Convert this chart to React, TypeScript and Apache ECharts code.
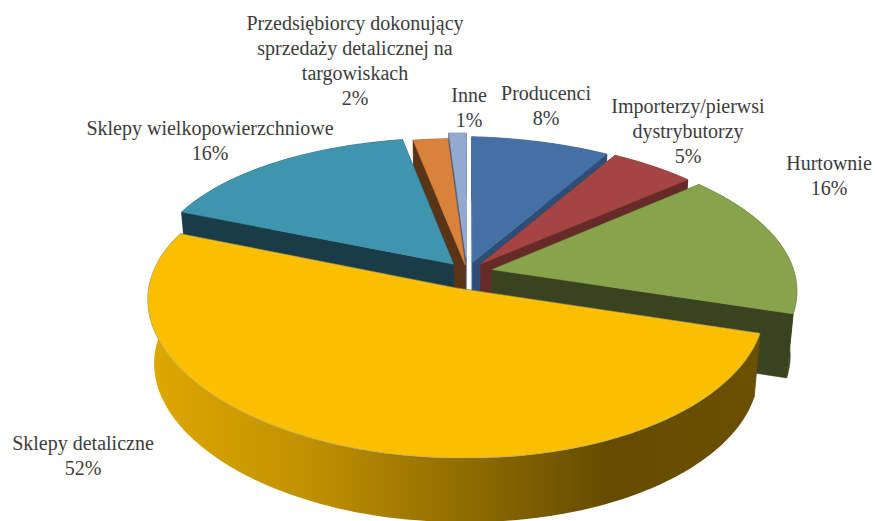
import React, { useEffect, useRef } from "react";
import * as echarts from "echarts";

const names = ["Producenci", "Importerzy/pierwsi\ndystrybutorzy", "Hurtownie", "Sklepy detaliczne", "Sklepy wielkopowierzchniowe", "Przedsiębiorcy dokonujący\nsprzedaży detalicznej na\ntargowiskach", "Inne"];
const values = [8, 5, 16, 52, 16, 2, 1];
const explode = [0.07, 0.075, 0.085, 0.115, 0.07, 0.05, 0.1];
const topColors = ["#4470a6", "#a54543", "#87a44d", "#fcbf00", "#4095ae", "#d9823b", "#93a9d0"];
const wallColors = ["#2e4e78", "#662a29", "#3a431f", "#6a5000", "#1a3c48", "#5a3417", "#4e5f80"];
const paintOrder = [0, 1, 6, 5, 4, 2, 3];
const labelCentres = [[546, 93], [688, 106], [829, 163], [83, 443], [210, 128], [355, 23], [469, 95]];

const CX = 467, CY = 272, R = 304, A = 144, K = 0.1275, KX = 0.09, SKEW_R = 0.025, SKEW_L = 0.008, WALL = 64, SHRINK = 0.98, LINE = 25;

function project(u: number, v: number): number[] {
  const x = CX + (R * u) / (1 + KX * v);
  const skew = x > CX ? SKEW_R : SKEW_L;
  return [x, CY - (A * v) / (1 + K * v) + skew * (x - CX)];
}
function drop(p: number[]): number[] {
  return [CX + (p[0] - CX) * SHRINK, p[1] + WALL];
}

function renderSlice(params: any) {
  const idx = paintOrder[params.dataIndex];
  const total = values.reduce((a, b) => a + b, 0);
  const before = values.slice(0, idx).reduce((a, b) => a + b, 0);
  const t0 = (before / total) * Math.PI * 2;
  const t1 = ((before + values[idx]) / total) * Math.PI * 2;
  const tm = (t0 + t1) / 2;
  const ex = explode[idx] * Math.sin(tm);
  const ey = explode[idx] * Math.cos(tm);
  const tip = project(ex, ey);
  const arc: number[][] = [];
  const steps = Math.max(6, Math.round(values[idx] * 3));
  for (let i = 0; i <= steps; i++) {
    const t = t0 + ((t1 - t0) * i) / steps;
    arc.push(project(ex + Math.sin(t), ey + Math.cos(t)));
  }
  const wall = wallColors[idx];
  const poly = (points: number[][], fill: any, stroke?: string) => ({
    type: "polygon",
    shape: { points },
    style: { fill, stroke: stroke || (typeof fill === "string" ? fill : "none"), lineWidth: 0.5 },
  });
  const radial = (p: number[]) => poly([tip, p, drop(p), drop(tip)], wall);
  const arcFill =
    idx === 3
      ? new echarts.graphic.LinearGradient(0, 0, 1, 0, [
          { offset: 0, color: "#dfa800" },
          { offset: 0.25, color: "#c29200" },
          { offset: 0.55, color: "#8a6800" },
          { offset: 0.75, color: "#654c00" },
          { offset: 1, color: "#6a5000" },
        ])
      : wall;
  return {
    type: "group",
    children: [
      radial(arc[0]),
      radial(arc[arc.length - 1]),
      poly([...arc, ...arc.slice().reverse().map(drop)], arcFill),
      poly([tip, ...arc], topColors[idx], idx === 3 ? "#8a9a8a" : topColors[idx]),
    ],
  };
}

export default function App() {
  const ref = useRef<HTMLDivElement>(null);
  useEffect(() => {
    const chart = echarts.init(ref.current!, undefined, { renderer: "svg" });
    chart.setOption({
      animation: false,
      backgroundColor: "#ffffff",
      series: [
        {
          type: "custom",
          coordinateSystem: "none",
          silent: true,
          data: paintOrder.map((i) => [i, values[i]]),
          renderItem: renderSlice,
        },
      ],
      graphic: names.map((name, i) => {
        const text = `${name}\n${values[i]}%`;
        return {
          type: "text",
          z: 100,
          x: labelCentres[i][0],
          y: labelCentres[i][1] - LINE / 2,
          style: {
            text,
            fill: "#3c3c3c",
            font: '20px "Liberation Serif"',
            align: "center",
            verticalAlign: "top",
            lineHeight: LINE,
          },
        };
      }),
    });
    return () => chart.dispose();
  }, []);
  return <div ref={ref} style={{ position: "fixed", left: 0, top: 0, width: 876, height: 521 }} />;
}
